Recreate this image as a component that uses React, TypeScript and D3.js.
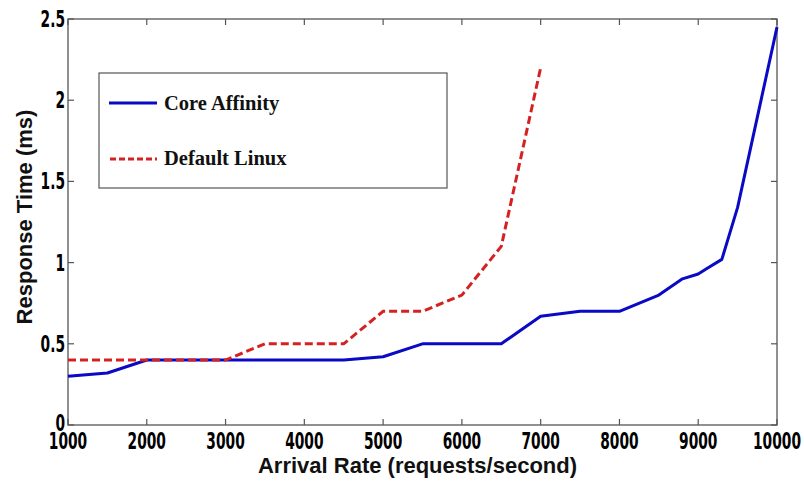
import React from "react";
import * as d3 from "d3";

// Arrival rate (requests/second) and mean response time (ms)
const coreAffinityRate = [1000, 1500, 2000, 3000, 4000, 4500, 5000, 5500, 6500, 7000, 7500, 8000, 8500, 8800, 9000, 9100, 9300, 9500, 10000];
const coreAffinityTime = [0.3, 0.32, 0.4, 0.4, 0.4, 0.4, 0.42, 0.5, 0.5, 0.67, 0.7, 0.7, 0.8, 0.9, 0.93, 0.96, 1.02, 1.34, 2.45];

const defaultLinuxRate = [1000, 2000, 3000, 3500, 4500, 5000, 5500, 6000, 6500, 7000];
const defaultLinuxTime = [0.4, 0.4, 0.4, 0.5, 0.5, 0.7, 0.7, 0.8, 1.1, 2.2];

const xTicks = [1000, 2000, 3000, 4000, 5000, 6000, 7000, 8000, 9000, 10000];
const yTicks = [0, 0.5, 1, 1.5, 2, 2.5];
const yTickLabels = ["0", "0.5", "1", "1.5", "2", "2.5"];

const seriesNames = ["Core Affinity", "Default Linux"];

const W = 804;
const H = 483;
const margin = { left: 68, right: 27, top: 19, bottom: 58 };

const BLUE = "#0a0ac4";
const RED = "#d42222";
const AXIS = "#555";

// condensed bold look for tick numbers
const TICK_FONT = "'DejaVu Sans', sans-serif";
const TICK_SQUEEZE = 0.6;

export default function App() {
  const x = d3.scaleLinear().domain([1000, 10000]).range([margin.left, W - margin.right]);
  const y = d3.scaleLinear().domain([0, 2.5]).range([H - margin.bottom, margin.top]);

  const line = d3
    .line<[number, number]>()
    .x((d) => x(d[0]))
    .y((d) => y(d[1]));

  const blue = line(coreAffinityRate.map((r, i) => [r, coreAffinityTime[i]]) as [number, number][]);
  const red = line(defaultLinuxRate.map((r, i) => [r, defaultLinuxTime[i]]) as [number, number][]);

  const x0 = x.range()[0];
  const x1 = x.range()[1];
  const y0 = y.range()[0];
  const y1 = y.range()[1];
  const tickLen = 6;

  return (
    <svg
      width={W}
      height={H}
      style={{ position: "absolute", left: 0, top: 0, background: "#fff" }}
    >
      {/* plot frame */}
      <rect x={x0} y={y1} width={x1 - x0} height={y0 - y1} fill="none" stroke={AXIS} strokeWidth={1.3} />

      {/* x ticks, bottom and top */}
      {xTicks.map((t) => (
        <g key={"xt" + t}>
          <line x1={x(t)} x2={x(t)} y1={y0} y2={y0 - tickLen} stroke={AXIS} strokeWidth={1.2} />
          <line x1={x(t)} x2={x(t)} y1={y1} y2={y1 + tickLen} stroke={AXIS} strokeWidth={1.2} />
          <text
            transform={`translate(${x(t)}, ${y0 + 24}) scale(${TICK_SQUEEZE}, 1)`}
            textAnchor="middle"
            fontFamily={TICK_FONT}
            fontWeight="bold"
            fontSize={23}
            fill="#000"
          >
            {t}
          </text>
        </g>
      ))}

      {/* y ticks, left and right */}
      {yTicks.map((t, i) => (
        <g key={"yt" + t}>
          <line x1={x0} x2={x0 + tickLen} y1={y(t)} y2={y(t)} stroke={AXIS} strokeWidth={1.2} />
          <line x1={x1} x2={x1 - tickLen} y1={y(t)} y2={y(t)} stroke={AXIS} strokeWidth={1.2} />
          <text
            transform={`translate(${x0 - 3}, ${y(t) + (t === 0 ? 6 : 8)}) scale(${TICK_SQUEEZE}, 1)`}
            textAnchor="end"
            fontFamily={TICK_FONT}
            fontWeight="bold"
            fontSize={23}
            fill="#000"
          >
            {yTickLabels[i]}
          </text>
        </g>
      ))}

      {/* series */}
      <path d={blue ?? ""} fill="none" stroke={BLUE} strokeWidth={3} strokeLinejoin="round" />
      <path d={red ?? ""} fill="none" stroke={RED} strokeWidth={3} strokeDasharray="8,4" />

      {/* legend */}
      <g>
        <rect x={99} y={73} width={348} height={115} fill="#fff" stroke={AXIS} strokeWidth={1.2} />
        <line x1={109} x2={157} y1={103} y2={103} stroke={BLUE} strokeWidth={3} />
        <text x={164} y={110} fontFamily="'Liberation Serif', 'Times New Roman', serif" fontWeight="bold" fontSize={20.5} fill="#111">
          {seriesNames[0]}
        </text>
        <line x1={110} x2={157} y1={159} y2={159} stroke={RED} strokeWidth={3} strokeDasharray="6,3" />
        <text x={164} y={165} fontFamily="'Liberation Serif', 'Times New Roman', serif" fontWeight="bold" fontSize={20.5} fill="#111">
          {seriesNames[1]}
        </text>
      </g>

      {/* axis titles */}
      <text
        x={(x0 + x1) / 2 - 5}
        y={473}
        textAnchor="middle"
        fontFamily="'Liberation Sans', Arial, sans-serif"
        fontWeight="bold"
        fontSize={22}
        fill="#111"
      >
        Arrival Rate (requests/second)
      </text>
      <text
        transform="translate(32, 217) rotate(-90)"
        textAnchor="middle"
        fontFamily="'Liberation Sans', Arial, sans-serif"
        fontWeight="bold"
        fontSize={22}
        fill="#111"
      >
        Response Time (ms)
      </text>
    </svg>
  );
}
